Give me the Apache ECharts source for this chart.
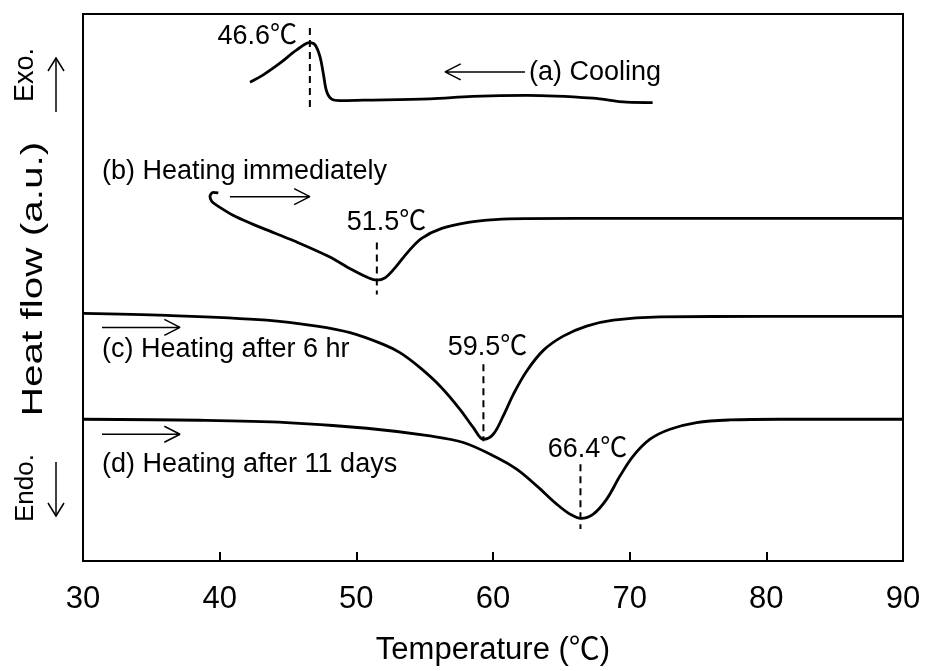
<!DOCTYPE html>
<html><head><meta charset="utf-8">
<script src="https://cdn.jsdelivr.net/npm/echarts@6/dist/echarts.min.js"></script>
<style>html,body{margin:0;padding:0;background:#fff}#c{width:925px;height:671px}</style>
</head><body><div id="c"></div>
<script>
// ---- data (temperature in degC, heat flow in arbitrary units) ----
const xTicks = [30, 40, 50, 60, 70, 80, 90];
const curveA = [[42.22,479.7],[43.19,487],[44.41,498.7],[45.64,512],[46.6,519.3],[46.98,517],[47.34,505.3],[47.58,488.7],[47.83,470.3],[48.2,462.7],[48.8,461.3],[50.51,461.7],[55.39,463],[58.5,465.5],[62.47,466.5],[67.32,463.7],[69.78,459.7],[71.68,459.3]];
const curveB = [[39.9,368.7],[39.53,369.3],[39.29,365.3],[39.42,360.3],[39.9,355.3],[41.12,345.3],[43.08,333.7],[45.51,320.3],[47.95,305.3],[49.66,292],[50.88,283.7],[51.49,281.3],[52.1,283.7],[52.83,293.7],[53.8,310],[54.78,323.3],[56.25,333.3],[58.19,339.3],[60.15,342],[62.34,343],[70,343.3],[90,343.3]];
const curveC = [[30,248],[36.12,246],[43.44,241.3],[47.1,235.3],[49.54,228.7],[51.97,217],[53.19,208.7],[54.66,193.7],[56.12,175.3],[57.58,152],[58.56,133.7],[59.29,122],[60.02,127],[60.75,145.3],[61.49,167],[62.47,190.3],[63.68,211],[65.14,225.3],[66.85,235.3],[68.8,241.3],[72.2,244.5],[80,245],[90,245]];
const curveD = [[30,142],[38.56,141],[44.9,138.7],[50.76,133],[55.39,125.3],[57.83,118.7],[60.27,103.7],[61.73,92],[63.2,75.3],[64.66,57],[65.63,47],[66.44,42.7],[67.34,47],[68.32,62],[69.3,85.3],[70.27,105.3],[71.49,122],[72.95,132],[74.9,138.7],[77.34,141.3],[81,142],[90,142]];
const peakT = [46.6, 51.5, 59.3, 66.4];
const peakLabels = ['46.6℃', '51.5℃', '59.5℃', '66.4℃'];
const curveLabels = ['(a) Cooling', '(b) Heating immediately', '(c) Heating after 6 hr', '(d) Heating after 11 days'];

// ---- annotation geometry (data coordinates) ----
const peakLineSpan = [[534, 453], [319, 267], [197, 120], [97, 32]];
const peakLabelPos = [[45.66, 525, 'right'], [52.21, 339, 'center'], [59.6, 214, 'center'], [66.91, 112, 'center']];
const curveLabelPos = [[62.63, 489], [31.39, 390], [31.39, 212], [31.39, 97]];
const arrowPos = [[62.34, 490, 56.49], [40.75, 365, 46.6], [31.39, 234, 37.1], [31.39, 127, 37.1]]; // [tail, y, tip]

const FONT = "'Liberation Sans', Arial, 'Noto Sans CJK JP', sans-serif";
const HEAD_DX = 1.15, HEAD_DY = 8;

function arrowSeries(a) {
  const [t0, y, t1] = a;
  const dir = t1 > t0 ? 1 : -1;
  return {
    type: 'line', silent: true, symbol: 'none', animation: false,
    lineStyle: { color: '#000', width: 1.5 },
    data: [[t0, y], [t1, y], [t1 - dir * HEAD_DX, y + HEAD_DY], [t1, y], [t1 - dir * HEAD_DX, y - HEAD_DY]]
  };
}

const series = [];
[curveA, curveB, curveC, curveD].forEach((c, i) => {
  series.push({ type: 'line', data: c, symbol: 'none', smooth: 0.35, lineStyle: { color: '#000', width: 2.8 }, animation: false });
});
peakT.forEach((t, i) => {
  series.push({ type: 'line', symbol: 'none', animation: false,
    lineStyle: { color: '#000', width: 2, type: [7, 5] },
    data: [[t, peakLineSpan[i][0]], [t, peakLineSpan[i][1]]] });
});
arrowPos.forEach(a => series.push(arrowSeries(a)));
const lblBase = { color: '#000', fontFamily: FONT, fontSize: 27, verticalAlign: 'middle', textBorderWidth: 0, opacity: 1 };
series.push({
  type: 'scatter', symbolSize: 0, animation: false, silent: true,
  itemStyle: { color: '#000', opacity: 1 },
  label: Object.assign({ show: true, position: [0, 0], formatter: p => p.data.value[2] }, lblBase),
  emphasis: { disabled: true },
  data: peakLabels.map((s, i) => ({ value: [peakLabelPos[i][0], peakLabelPos[i][1], s], label: Object.assign({ align: peakLabelPos[i][2] }, lblBase) }))
    .concat(curveLabels.map((s, i) => ({ value: [curveLabelPos[i][0], curveLabelPos[i][1], s], label: Object.assign({ align: 'left' }, lblBase) })))
});

const chart = echarts.init(document.getElementById('c'), null, { renderer: 'canvas' });
chart.setOption({
  animation: false,
  backgroundColor: '#fff',
  grid: { left: 83, right: 22, top: 14, bottom: 109, show: true, borderColor: '#000', borderWidth: 2 },
  xAxis: {
    type: 'value', min: xTicks[0], max: xTicks[xTicks.length - 1], interval: 10,
    name: 'Temperature (℃)', nameLocation: 'middle', nameGap: 74,
    nameTextStyle: { color: '#000', fontSize: 31, fontFamily: FONT },
    axisLine: { lineStyle: { color: '#000', width: 2 } },
    axisTick: { inside: true, length: 9, lineStyle: { color: '#000', width: 2 } },
    axisLabel: { color: '#000', fontSize: 31, fontFamily: FONT, margin: 23 },
    splitLine: { show: false }
  },
  yAxis: {
    type: 'value', min: 0, max: 548,
    axisLine: { show: true, lineStyle: { color: '#000', width: 2 } },
    axisTick: { show: false }, axisLabel: { show: false }, splitLine: { show: false }
  },
  graphic: [
    { type: 'text', x: 34, y: 279, rotation: Math.PI / 2, scaleX: 1.35,
      style: { text: 'Heat flow (a.u.)', fill: '#000', font: '30px ' + FONT, align: 'center', verticalAlign: 'middle' } },
    { type: 'text', x: 26, y: 75, rotation: Math.PI / 2,
      style: { text: 'Exo.', fill: '#000', font: '27px ' + FONT, align: 'center', verticalAlign: 'middle' } },
    { type: 'text', x: 26, y: 488, rotation: Math.PI / 2,
      style: { text: 'Endo.', fill: '#000', font: '26px ' + FONT, align: 'center', verticalAlign: 'middle' } },
    { type: 'polyline', shape: { points: [[56, 112], [56, 58]] }, style: { stroke: '#000', lineWidth: 1.5, fill: null } },
    { type: 'polyline', shape: { points: [[48, 71], [56, 58], [64, 71]] }, style: { stroke: '#000', lineWidth: 1.5, fill: null } },
    { type: 'polyline', shape: { points: [[56, 462], [56, 516]] }, style: { stroke: '#000', lineWidth: 1.5, fill: null } },
    { type: 'polyline', shape: { points: [[48, 503], [56, 516], [64, 503]] }, style: { stroke: '#000', lineWidth: 1.5, fill: null } }
  ],
  series: series
});
</script>
</body></html>
